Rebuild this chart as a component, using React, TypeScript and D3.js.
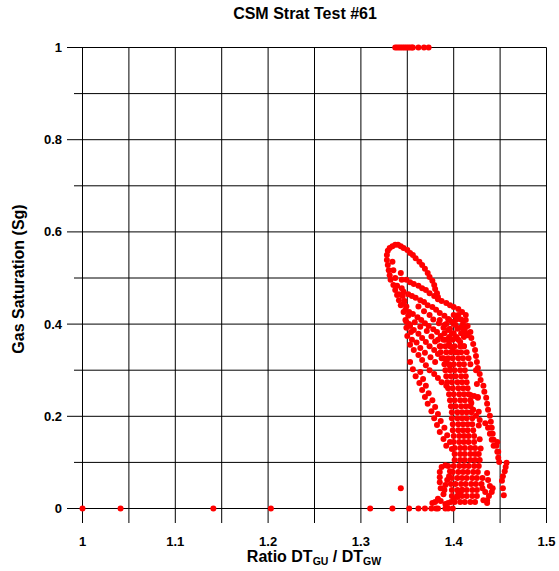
import React from "react";
import * as d3 from "d3";

// Chart frame
const W = 559;
const H = 571;
const X0 = 82.5;
const X1 = 546.5;
const Y0 = 508.5;
const Y1 = 47.5;

const title = "CSM Strat Test #61";
const yTitle = "Gas Saturation (Sg)";

const xTicks = [1, 1.1, 1.2, 1.3, 1.4, 1.5];
const xTickLabels = ["1", "1.1", "1.2", "1.3", "1.4", "1.5"];
const xGrid = [1, 1.05, 1.1, 1.15, 1.2, 1.25, 1.3, 1.35, 1.4, 1.45, 1.5];
const yTicks = [0, 0.2, 0.4, 0.6, 0.8, 1];
const yTickLabels = ["0", "0.2", "0.4", "0.6", "0.8", "1"];
const yMinor = [0.1, 0.3, 0.5, 0.7, 0.9];

// Samples pinned at Sg = 1
const fullGasRatios = [1.337, 1.339, 1.341, 1.343, 1.345, 1.347, 1.349, 1.351, 1.353, 1.355, 1.356, 1.362, 1.368, 1.373];

// Samples pinned at Sg = 0
const noGasRatios = [1.0, 1.041, 1.141, 1.203, 1.31, 1.334, 1.352, 1.362, 1.369, 1.376, 1.381, 1.383, 1.391, 1.394, 1.399];

// [ratio, Sg] pairs
const upperLoop: [number, number][] = [
  [1.343, 0.441], [1.341, 0.452], [1.339, 0.463], [1.337, 0.474], [1.335, 0.485], [1.332, 0.496],
  [1.331, 0.506], [1.33, 0.517], [1.329, 0.528], [1.328, 0.539], [1.328, 0.55], [1.329, 0.559],
  [1.331, 0.565], [1.334, 0.569], [1.337, 0.572], [1.34, 0.572], [1.343, 0.569], [1.346, 0.565],
  [1.35, 0.561], [1.353, 0.554], [1.356, 0.55], [1.359, 0.543], [1.363, 0.535], [1.366, 0.528],
  [1.369, 0.52], [1.372, 0.511], [1.374, 0.502], [1.377, 0.494], [1.379, 0.485], [1.38, 0.476],
  [1.382, 0.467], [1.383, 0.459],
  [1.334, 0.535], [1.335, 0.517], [1.337, 0.5], [1.339, 0.483], [1.341, 0.465],
];

const innerSpike: [number, number][] = [
  [1.343, 0.511], [1.344, 0.496], [1.344, 0.478], [1.345, 0.461], [1.346, 0.444],
  [1.346, 0.426], [1.348, 0.409], [1.349, 0.392], [1.35, 0.374],
  [1.347, 0.45], [1.349, 0.438], [1.351, 0.418], [1.352, 0.4], [1.354, 0.383], [1.355, 0.366],
];

const upperBands: [number, number][] = [
  [1.349, 0.496], [1.353, 0.491], [1.357, 0.487], [1.362, 0.483], [1.366, 0.478], [1.37, 0.474],
  [1.374, 0.467], [1.379, 0.461], [1.383, 0.454], [1.387, 0.45], [1.392, 0.446], [1.396, 0.441],
  [1.4, 0.437], [1.405, 0.433], [1.409, 0.426], [1.413, 0.42],
  [1.346, 0.47], [1.351, 0.465], [1.355, 0.461], [1.359, 0.457], [1.364, 0.452], [1.368, 0.448],
  [1.372, 0.441], [1.377, 0.437], [1.381, 0.431], [1.385, 0.424], [1.39, 0.418], [1.394, 0.411],
  [1.398, 0.405], [1.402, 0.398], [1.407, 0.392], [1.411, 0.385], [1.415, 0.376],
  [1.348, 0.431], [1.352, 0.426], [1.356, 0.422], [1.361, 0.415], [1.365, 0.409], [1.369, 0.402],
  [1.373, 0.396], [1.378, 0.389], [1.382, 0.383], [1.386, 0.374], [1.391, 0.366], [1.395, 0.357],
  [1.399, 0.348], [1.404, 0.339],
  [1.349, 0.405], [1.353, 0.396], [1.357, 0.387], [1.362, 0.379], [1.366, 0.37], [1.37, 0.361],
  [1.374, 0.352], [1.379, 0.344], [1.383, 0.335], [1.387, 0.326], [1.392, 0.318], [1.396, 0.309],
  [1.362, 0.438], [1.368, 0.428], [1.374, 0.42], [1.378, 0.41], [1.384, 0.402], [1.389, 0.392],
  [1.358, 0.404], [1.364, 0.394], [1.371, 0.385], [1.376, 0.373], [1.38, 0.362], [1.386, 0.352],
  [1.36, 0.36], [1.364, 0.348], [1.369, 0.338], [1.375, 0.328], [1.38, 0.318],
  [1.4, 0.42], [1.405, 0.42], [1.395, 0.41], [1.403, 0.41], [1.408, 0.41],
  [1.392, 0.4], [1.4, 0.4], [1.41, 0.4], [1.396, 0.39], [1.404, 0.39], [1.412, 0.39],
  [1.39, 0.38], [1.4, 0.38], [1.408, 0.38], [1.414, 0.38], [1.395, 0.372], [1.403, 0.372], [1.411, 0.372],
];

const midBands: [number, number][] = [
  [1.353, 0.355], [1.357, 0.344], [1.362, 0.333], [1.366, 0.322], [1.37, 0.311], [1.374, 0.3],
  [1.379, 0.292], [1.383, 0.283], [1.387, 0.274], [1.392, 0.266],
  [1.385, 0.409], [1.39, 0.398], [1.394, 0.387], [1.398, 0.379], [1.402, 0.37], [1.407, 0.361],
  [1.411, 0.352], [1.414, 0.339], [1.416, 0.326], [1.418, 0.313],
  [1.353, 0.318], [1.356, 0.302], [1.359, 0.287], [1.363, 0.272], [1.366, 0.257], [1.369, 0.242],
  [1.372, 0.227], [1.376, 0.211], [1.379, 0.196], [1.382, 0.181], [1.385, 0.166], [1.389, 0.151],
  [1.392, 0.136],
  [1.364, 0.296], [1.367, 0.281], [1.37, 0.266], [1.373, 0.25], [1.377, 0.235], [1.38, 0.22],
  [1.383, 0.205], [1.386, 0.19], [1.39, 0.175], [1.393, 0.159], [1.396, 0.144], [1.398, 0.129],
];

const rightEdge: [number, number][] = [
  [1.413, 0.409], [1.415, 0.396], [1.418, 0.383], [1.419, 0.37], [1.421, 0.357], [1.423, 0.344],
  [1.424, 0.331], [1.425, 0.318], [1.426, 0.305], [1.428, 0.292], [1.429, 0.279], [1.432, 0.266],
  [1.433, 0.253], [1.435, 0.24], [1.436, 0.227], [1.437, 0.214], [1.439, 0.201], [1.44, 0.188],
  [1.441, 0.175], [1.442, 0.162], [1.443, 0.149], [1.446, 0.136], [1.447, 0.123], [1.448, 0.11],
  [1.418, 0.246], [1.422, 0.244], [1.426, 0.242], [1.419, 0.229], [1.421, 0.214], [1.424, 0.201],
  [1.428, 0.192], [1.434, 0.185], [1.437, 0.175], [1.439, 0.162], [1.441, 0.149], [1.443, 0.136],
  [1.424, 0.3], [1.425, 0.27], [1.426, 0.24], [1.427, 0.21], [1.427, 0.18], [1.428, 0.15], [1.429, 0.13],
];

// Dense core, one row of ratios per Sg level
const coreRows: [number, number[]][] = [
  [0.366, [1.383, 1.389, 1.394, 1.399, 1.405]],
  [0.352, [1.385, 1.391, 1.396, 1.401, 1.407, 1.411]],
  [0.339, [1.386, 1.392, 1.397, 1.402, 1.408]],
  [0.326, [1.389, 1.394, 1.399, 1.405, 1.41]],
  [0.313, [1.39, 1.395, 1.4, 1.406, 1.411]],
  [0.3, [1.391, 1.396, 1.401, 1.407, 1.412]],
  [0.287, [1.392, 1.397, 1.402, 1.408, 1.413]],
  [0.274, [1.393, 1.398, 1.404, 1.409, 1.414]],
  [0.261, [1.394, 1.399, 1.405, 1.41, 1.415]],
  [0.248, [1.395, 1.4, 1.406, 1.411, 1.416]],
  [0.235, [1.396, 1.401, 1.407, 1.412, 1.418]],
  [0.222, [1.397, 1.402, 1.408, 1.413, 1.418]],
  [0.209, [1.398, 1.404, 1.409, 1.414, 1.419]],
  [0.196, [1.398, 1.404, 1.409, 1.414, 1.42]],
  [0.183, [1.399, 1.405, 1.41, 1.415, 1.42]],
  [0.17, [1.399, 1.405, 1.41, 1.415, 1.421]],
  [0.157, [1.4, 1.406, 1.411, 1.416, 1.422]],
  [0.144, [1.4, 1.406, 1.411, 1.416, 1.422]],
  [0.131, [1.401, 1.407, 1.412, 1.418, 1.423]],
  [0.118, [1.401, 1.407, 1.412, 1.418, 1.423, 1.427]],
  [0.105, [1.401, 1.407, 1.412, 1.418, 1.423, 1.428]],
  [0.092, [1.4, 1.406, 1.411, 1.416, 1.422, 1.427]],
  [0.079, [1.399, 1.405, 1.41, 1.415, 1.421, 1.426]],
  [0.066, [1.398, 1.404, 1.409, 1.414, 1.42, 1.425, 1.431]],
  [0.053, [1.397, 1.402, 1.408, 1.413, 1.419, 1.424, 1.43]],
  [0.04, [1.398, 1.404, 1.409, 1.414, 1.42, 1.425]],
  [0.027, [1.398, 1.404, 1.409, 1.414, 1.42, 1.425]],
  [0.014, [1.401, 1.407, 1.412, 1.418, 1.423]],
];

const lowerLoop: [number, number][] = [
  [1.385, 0.079], [1.387, 0.09], [1.391, 0.094], [1.394, 0.092], [1.396, 0.081], [1.395, 0.07],
  [1.393, 0.062], [1.391, 0.051], [1.39, 0.04], [1.389, 0.031], [1.386, 0.044], [1.385, 0.057],
  [1.385, 0.068],
  [1.377, 0.012], [1.38, 0.014], [1.383, 0.021], [1.386, 0.016], [1.391, 0.01], [1.394, 0.012],
  [1.397, 0.014], [1.4, 0.021], [1.404, 0.025], [1.407, 0.031], [1.409, 0.04], [1.405, 0.036],
  [1.343, 0.044],
];

const rightTail: [number, number][] = [
  [1.436, 0.077], [1.437, 0.062], [1.439, 0.049], [1.442, 0.044], [1.441, 0.036], [1.438, 0.027],
  [1.436, 0.018], [1.436, 0.012], [1.432, 0.018], [1.434, 0.036], [1.431, 0.044],
  [1.447, 0.144], [1.448, 0.123], [1.449, 0.101], [1.457, 0.099], [1.456, 0.09], [1.455, 0.081],
  [1.453, 0.07], [1.452, 0.06], [1.453, 0.044], [1.454, 0.029],
];

const points: [number, number][] = [
  ...fullGasRatios.map((r) => [r, 1] as [number, number]),
  ...noGasRatios.map((r) => [r, 0] as [number, number]),
  ...upperLoop,
  ...innerSpike,
  ...upperBands,
  ...midBands,
  ...rightEdge,
  ...coreRows.flatMap(([sg, rs]) => rs.map((r) => [r, sg] as [number, number])),
  ...lowerLoop,
  ...rightTail,
];

const FONT = "Arial, 'Liberation Sans', Helvetica, sans-serif";

export default function App() {
  const x = d3.scaleLinear().domain([1, 1.5]).range([X0, X1]);
  const y = d3.scaleLinear().domain([0, 1]).range([Y0, Y1]);
  const bottom = 523;

  return (
    <svg
      width={W}
      height={H}
      style={{ position: "absolute", left: 0, top: 0, background: "#fff" }}
      fontFamily={FONT}
    >
      <rect x={0} y={0} width={W} height={H} fill="#fff" />
      {/* vertical grid */}
      {xGrid.map((v) => (
        <line key={"vx" + v} x1={x(v)} x2={x(v)} y1={Y1} y2={bottom} stroke="#000" strokeWidth={1} />
      ))}
      {/* horizontal grid, major with longer ticks */}
      {yTicks.map((v) => (
        <line key={"hy" + v} x1={67} x2={X1} y1={y(v)} y2={y(v)} stroke="#000" strokeWidth={1} />
      ))}
      {yMinor.map((v) => (
        <line key={"my" + v} x1={74} x2={X1} y1={y(v)} y2={y(v)} stroke="#000" strokeWidth={1} />
      ))}

      {points.map(([r, s], i) => (
        <circle key={i} cx={x(r)} cy={y(s)} r={3} fill="#ff0000" />
      ))}

      {/* tick labels */}
      {xTicks.map((v, i) => (
        <text key={"xt" + v} x={x(v)} y={546} textAnchor="middle" fontSize={13} fontWeight="bold">
          {xTickLabels[i]}
        </text>
      ))}
      {yTicks.map((v, i) => (
        <text key={"yt" + v} x={62} y={y(v) + 4.5} textAnchor="end" fontSize={13} fontWeight="bold">
          {yTickLabels[i]}
        </text>
      ))}

      <text x={305} y={19} textAnchor="middle" fontSize={16} fontWeight="bold">
        {title}
      </text>
      <text
        transform={`translate(24, ${279}) rotate(-90)`}
        textAnchor="middle"
        fontSize={16}
        fontWeight="bold"
      >
        {yTitle}
      </text>
      <text x={314} y={562} textAnchor="middle" fontSize={16} fontWeight="bold">
        Ratio DT
        <tspan fontSize={10.5} dy={3}>GU</tspan>
        <tspan dy={-3}> / DT</tspan>
        <tspan fontSize={10.5} dy={3}>GW</tspan>
      </text>
    </svg>
  );
}
